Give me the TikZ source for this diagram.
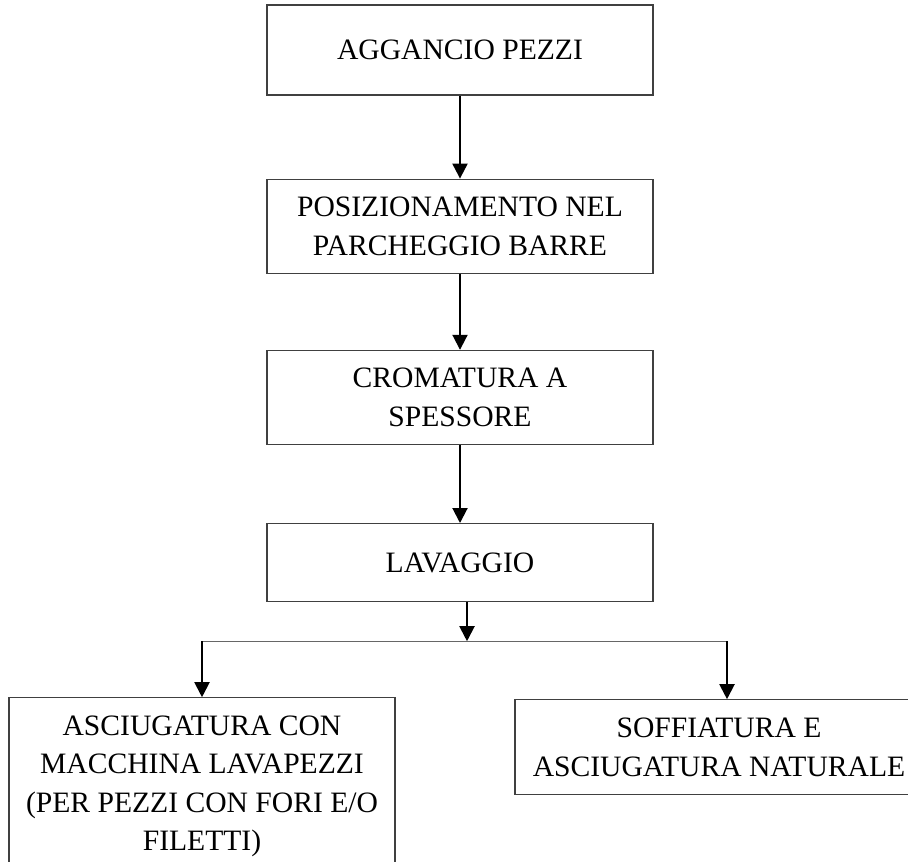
\documentclass[tikz,border=0pt]{standalone}
\usepackage{fontspec}
\setmainfont{Liberation Serif}
\usetikzlibrary{arrows.meta,positioning}

\tikzset{
	box/.style={draw=black!75,line width=0.6pt,align=center,inner sep=0pt,minimum width=193pt,
		font=\fontsize{14.8}{19.3}\selectfont},
	arr/.style={-{Triangle[length=7.5pt,width=7.5pt]},line width=1pt},
	link/.style={draw=black!60,line width=0.6pt},
}

\begin{document}
\begin{tikzpicture}
		\path[use as bounding box,clip] (0,0) rectangle (454pt,-430.5pt);

		\node [box,minimum height=45pt] (aggancio) at (230pt,-25pt) {AGGANCIO PEZZI};
		\node [box,minimum height=47pt,below=41.5pt of aggancio] (parcheggio) {
			POSIZIONAMENTO NEL \\
			PARCHEGGIO BARRE
		};
		\node [box,minimum height=47pt,below=38pt of parcheggio] (cromatura) {
			CROMATURA A \\
			SPESSORE
		};
		\node [box,minimum height=39pt,below=39pt of cromatura] (lavaggio) {LAVAGGIO};

		\node [box,minimum height=88.5pt,below=47.5pt of lavaggio,xshift=-129pt] (asciugatura) {
			ASCIUGATURA CON \\
			MACCHINA LAVAPEZZI \\
			(PER PEZZI CON FORI E/O \\
			FILETTI)
		};
		\node [box,minimum width=204pt,minimum height=47.5pt,below=48.5pt of lavaggio,xshift=129.5pt] (soffiatura) {
			SOFFIATURA E \\
			ASCIUGATURA NATURALE
		};

		% fasi in sequenza
		\draw[arr] (aggancio) -- (parcheggio);
		\draw[arr] (parcheggio) -- (cromatura);
		\draw[arr] (cromatura) -- (lavaggio);

		% diramazione dopo il lavaggio
		\coordinate[below=19.5pt of lavaggio.south,xshift=3.5pt] (split);
		\coordinate (lbranch) at (split -| asciugatura);
		\coordinate[xshift=4pt] (rbranch) at (split -| soffiatura);
		\draw[arr] (split |- lavaggio.south) -- (split);
		\draw[link] (lbranch) -- (rbranch);
		\draw[arr] (lbranch) -- (asciugatura);
		\draw[arr] (rbranch) -- (rbranch |- soffiatura.north);
	\end{tikzpicture}
\end{document}
